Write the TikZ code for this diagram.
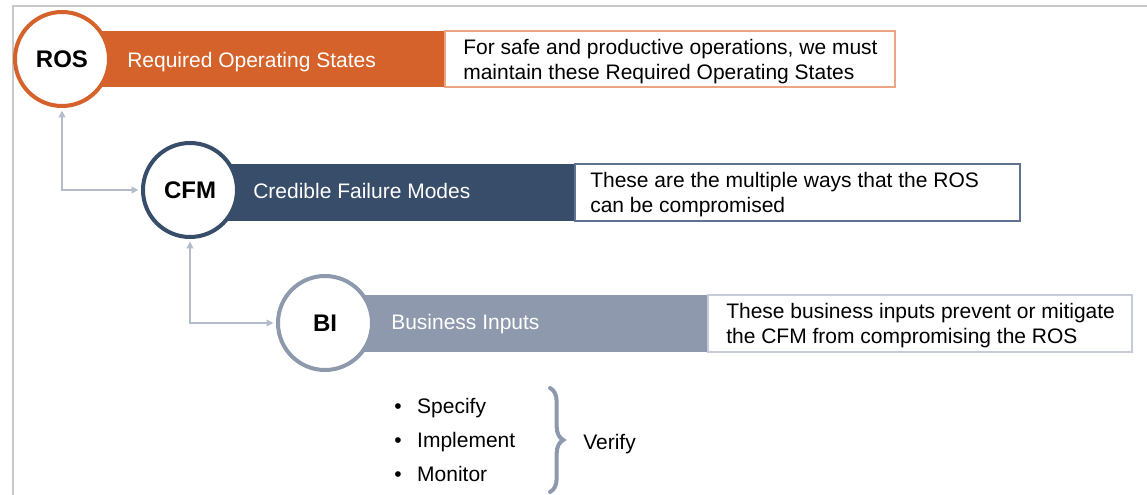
\documentclass[tikz,border=0pt]{standalone}
\usepackage{fontspec}
\setmainfont{Liberation Sans}
\usepackage{xcolor}
\usepackage{tikz}
\usetikzlibrary{arrows.meta,positioning,calc,decorations.pathreplacing}

\definecolor{rosorange}{HTML}{D5622A}
\definecolor{rosline}{HTML}{EBA582}
\definecolor{cfmblue}{HTML}{384D69}
\definecolor{cfmline}{HTML}{5F7391}
\definecolor{bigray}{HTML}{8E99AD}
\definecolor{biline}{HTML}{C5CBD8}
\definecolor{linkgray}{HTML}{B4BCCB}
\definecolor{framegray}{HTML}{C8C8C8}

\begin{document}
\begin{tikzpicture}[
    x=0.75pt, y=-0.75pt,
    stage/.style={circle, draw, line width=3pt, fill=white, minimum size=70.5pt, inner sep=0pt, font=\bfseries\fontsize{18}{20}\selectfont},
    bartext/.style={anchor=base west, inner sep=0pt, text=white, font=\fontsize{15.75}{18.75}\selectfont},
    desctext/.style={anchor=west, inner sep=0pt, align=left, font=\fontsize{15.75}{18.75}\selectfont},
    item/.style={anchor=base west, inner sep=0pt, font=\fontsize{15.75}{18.75}\selectfont},
    link/.style={{Triangle[length=5pt,width=5pt]}-{Triangle[length=5pt,width=5pt]}, linkgray, line width=1.1pt, shorten <=2pt, shorten >=2pt}
]
    \useasboundingbox (0,0) rectangle (1147,495);

    % frame
    \draw[framegray, line width=1.5pt] (13,495) -- (13,6) -- (1147,6);

    % bars and descriptions
    \fill[rosorange] (62,31) rectangle (445,87);
    \draw[rosline, line width=0.9pt, fill=white] (445,31) rectangle (895,87);
    \fill[cfmblue] (190,164) rectangle (575,221);
    \draw[cfmline, line width=0.9pt, fill=white] (575,164) rectangle (1020,221);
    \fill[bigray] (325,295) rectangle (708,352);
    \draw[biline, line width=0.9pt, fill=white] (708,295) rectangle (1132,352);

    % stages
    \node[stage, draw=rosorange] (ros) at (62,59) {\raisebox{-1.5pt}{ROS}};
    \node[stage, draw=cfmblue] (cfm) at (190,190) {CFM};
    \node[stage, draw=bigray] (bi) at (325,323) {BI};

    % titles
    \node[bartext] (rostitle) at (127,68) {Required Operating States};
    \node[bartext] (cfmtitle) at (253,199) {Credible Failure Modes};
    \node[bartext] (bititle) at (391,330) {Business Inputs};

    \node[desctext] (rosdesc) at (463,61.5) {For safe and productive operations, we must\\maintain these Required Operating States};
    \node[desctext] (cfmdesc) at (590,195) {These are the multiple ways that the ROS\\can be compromised};
    \node[desctext] (bidesc) at (726,326) {These business inputs prevent or mitigate\\the CFM from compromising the ROS};

    % links
    \draw[link] (ros.south) |- (cfm.west);
    \draw[link] (cfm.south) |- (bi.west);

    % steps
    \node[item] (specify) at (394,413.5) {\textbullet\hspace{11.7pt}Specify};
    \node[item] (implement) at (394,447.5) {\textbullet\hspace{11.7pt}Implement};
    \node[item] (monitor) at (394,481.5) {\textbullet\hspace{11.7pt}Monitor};
    \coordinate (bracetop) at (550,388);
    \coordinate (bracebot) at (550,492);
    \draw[bigray, line width=3pt, line cap=round, decoration={brace, amplitude=10pt}, decorate] (bracetop) -- (bracebot);
    \node[item] (verify) at (583,449.5) {Verify};
\end{tikzpicture}
\end{document}
